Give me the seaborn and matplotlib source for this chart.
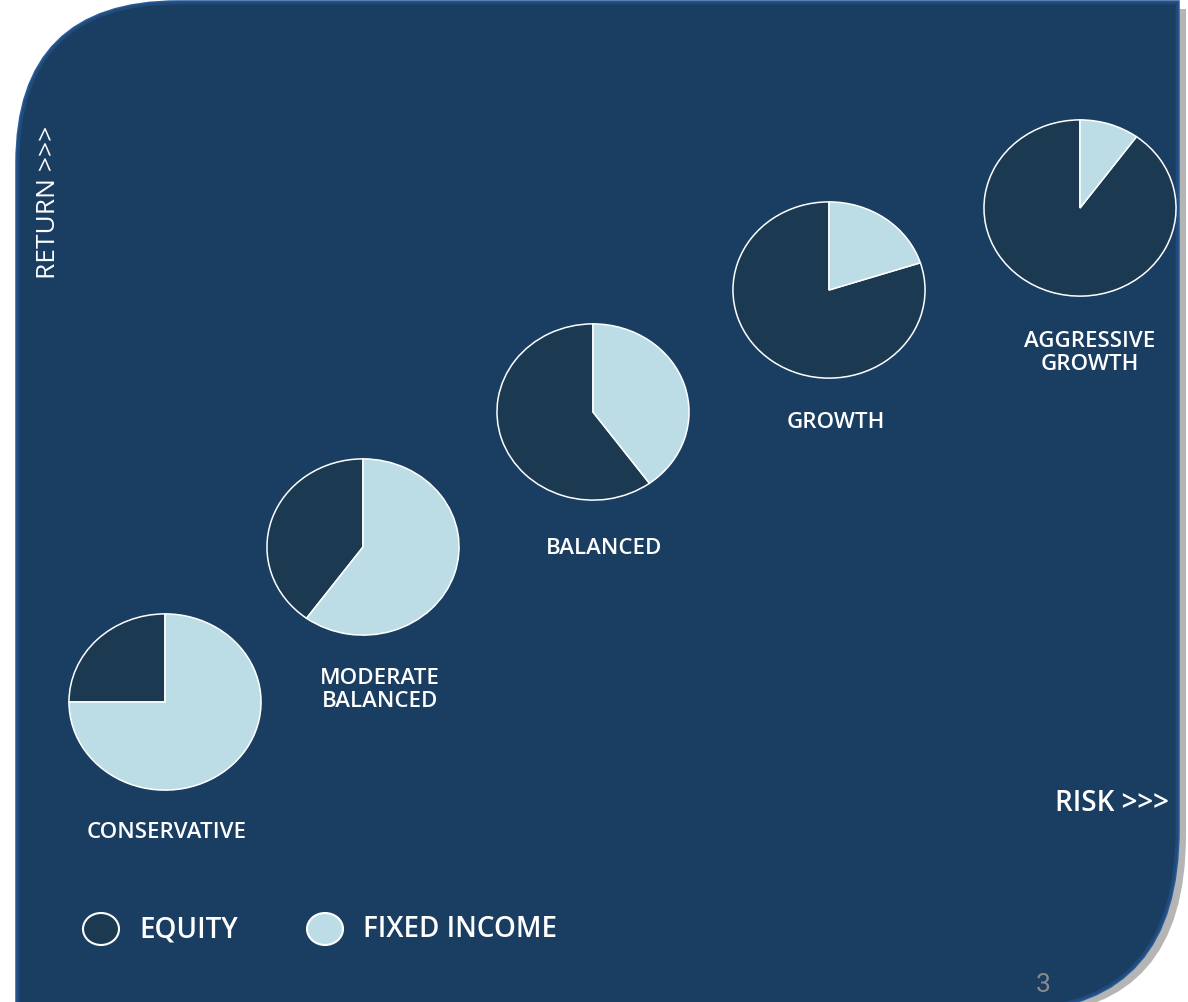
import numpy as np
import seaborn as sns
import matplotlib.pyplot as plt
from matplotlib.path import Path
from matplotlib.patches import PathPatch, Ellipse

# data
profiles = ["CONSERVATIVE", "MODERATE\nBALANCED", "BALANCED", "GROWTH", "AGGRESSIVE\nGROWTH"]
equity = [25, 40, 60, 80, 90]
fixed_income = [75, 60, 40, 20, 10]
legend_labels = ["EQUITY", "FIXED INCOME"]

W, H = 1188, 1003

# layout (pixel coords, y down)
pie_centers = [(165, 703), (363, 548), (593, 413), (829, 291), (1080, 209)]
pie_w, pie_h = 194, 178
label_pos = [(167, 833), (380, 690), (604, 549), (836, 422), (1090, 353)]

sns.set_theme(style="white")
plt.rcParams['font.family'] = ['Open Sans', 'DejaVu Sans']
colors = sns.color_palette(["#1b3a51", "#bddde6"])
bg = "#1a3d62"

fig = plt.figure(figsize=(W / 100, H / 100), dpi=100)
fig.patch.set_facecolor("white")
ax = fig.add_axes([0, 0, 1, 1])
ax.set_xlim(0, W)
ax.set_ylim(H, 0)
ax.axis("off")


def panel_path(dx=0, dy=0):
    l, t, r, b = 18 + dx, 4 + dy, 1177 + dx, 1010 + dy
    rad = 160
    verts = [
        (l, b), (l, t + rad),
        (l, t), (l + rad, t),
        (r, t), (r, 830 + dy),
        (r, b - 5), (1020 + dx, b),
        (l, b),
    ]
    codes = [Path.MOVETO, Path.LINETO,
             Path.CURVE3, Path.CURVE3,
             Path.LINETO, Path.LINETO,
             Path.CURVE3, Path.CURVE3,
             Path.CLOSEPOLY]
    return Path(verts, codes)


# shadow + panel (soft lighter rim)
ax.add_patch(PathPatch(panel_path(9, 6), facecolor="#b5b5b5", edgecolor="none", zorder=0))
ax.add_patch(PathPatch(panel_path(), facecolor=bg, edgecolor="#2a5e98", linewidth=4, zorder=1))
ax.add_patch(PathPatch(panel_path(), facecolor=bg, edgecolor="#214b7c", linewidth=2, zorder=2))

# pies
for name, eq, fi, (cx, cy), (lx, ly) in zip(profiles, equity, fixed_income, pie_centers, label_pos):
    pax = fig.add_axes([(cx - pie_w / 2) / W, 1 - (cy + pie_h / 2) / H, pie_w / W, pie_h / H])
    pax.pie([eq, fi], colors=colors, startangle=90, counterclock=True,
            wedgeprops=dict(edgecolor="white", linewidth=1.1))
    pax.set_xlim(-1.01, 1.01)
    pax.set_ylim(-1.01, 1.01)
    pax.set_aspect("auto")
    pax.axis("off")
    ax.text(lx, ly, name, color="white", fontsize=16, fontweight="semibold",
            ha="center", va="center", linespacing=1.1, zorder=5)

# axis labels
ax.text(49, 202, "RETURN >>>", color="white", fontsize=19, rotation=90,
        ha="center", va="center", zorder=5)
ax.text(1112, 804, "RISK >>>", color="white", fontsize=20, fontweight="semibold",
        ha="center", va="center", zorder=5)

# legend
for ex, c, lab in zip([101, 325], colors, legend_labels):
    ax.add_patch(Ellipse((ex, 930), 36, 32, facecolor=c, edgecolor="white", linewidth=1.5, zorder=5))
    ax.text(ex + 38, 930, lab, color="white", fontsize=20, fontweight="semibold",
            ha="left", va="center", zorder=5)

# page number
ax.text(1043, 985, "3", color="#8a8a8a", fontsize=19, ha="center", va="center",
        family=["Roboto", "DejaVu Sans"], zorder=5)

fig.savefig("out.png", dpi=100)
